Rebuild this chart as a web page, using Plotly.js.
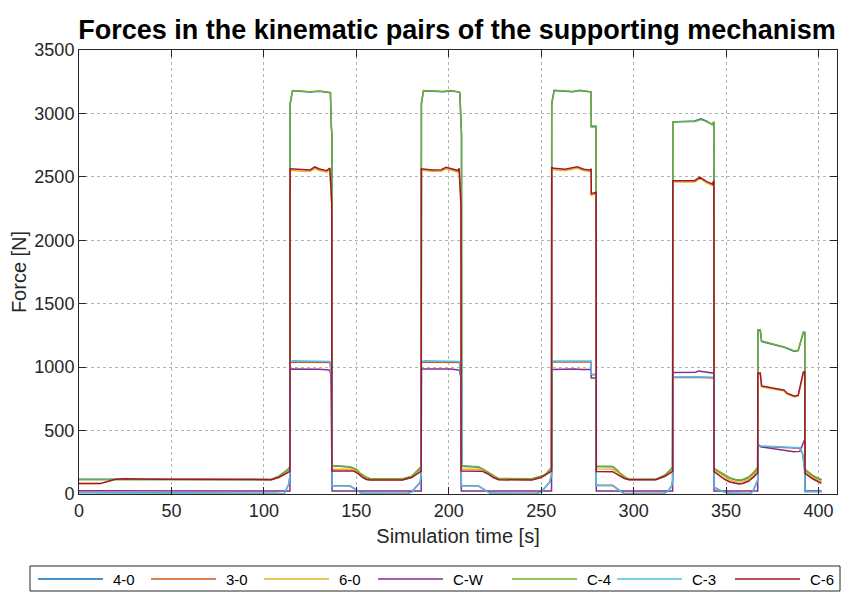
<!DOCTYPE html>
<html>
<head>
<meta charset="utf-8">
<script src="https://cdn.plot.ly/plotly-3.0.1.min.js"></script>
<style>html,body{margin:0;padding:0;background:#fff;}#chart{width:842px;height:592px;}</style>
</head>
<body>
<div id="chart"></div>
<script>
// Series names and colours
const seriesNames = ["4-0", "3-0", "6-0", "C-W", "C-4", "C-3", "C-6"];
const seriesColors = ["#0072BD", "#D95319", "#EDB120", "#7E2F8E", "#77AC30", "#4DBEEE", "#A2142F"];

// C-4 and 4-0 (shared time points)
const tC4 = [0,13,20,25,40,60,80,104,108,113,114.1,
  114.2,115.5,120,125,130,133,136.0,136.5,136.8,136.9,
  146.5,150,152,155,157.3,175,180,184.3,185.1,
  185.2,186.3,192,197,201,205.5,206.0,206.6,206.9,207.0,
  216,219,222,225,227,245,252,255.6,
  255.7,257,262,267,271,276.5,277.0,277.1,279.7,279.8,
  288.6,291,293,296,297.6,312,317,321.1,
  321.2,333,336.5,339.5,342.5,343.2,343.4,
  343.5,346,349,352,355,357,359,362,365,367.1,
  367.2,368.5,369.2,381.5,387,389,391.8,392.6,
  392.7,397,401.6];
const vC4 = [113,113,116,118,116,114,116,114,140,195,215,
  3080,3180,3175,3170,3176,3170,3165,2900,2830,225,
  215,195,165,135,123,120,140,205,215,
  3080,3180,3176,3172,3180,3170,3162,2880,2830,222,
  215,192,165,135,122,120,150,210,
  3080,3182,3178,3172,3182,3172,3170,2900,2900,220,
  218,190,160,128,116,116,150,210,
  2934,2936,2952,2935,2915,2930,2930,
  201,180,152,128,114,110,114,132,170,210,
  1295,1295,1206,1159,1127,1133,1277,1277,
  194,145,112];
const v40 = [116,116,117,118,116,114,116,114,138,192,212,
  3075,3178,3172,3168,3174,3168,3162,2895,2825,222,
  212,192,162,132,121,118,138,202,212,
  3075,3178,3174,3170,3178,3168,3160,2875,2825,219,
  212,189,162,132,120,118,148,207,
  3075,3180,3176,3170,3180,3170,3168,2895,2895,217,
  215,187,157,125,114,114,148,207,
  2932,2940,2958,2938,2912,2928,2928,
  198,177,149,125,112,108,112,130,167,207,
  1290,1290,1202,1156,1124,1130,1272,1272,
  190,142,110];

// C-6 and 6-0 (shared time points)
const tC6 = [0,11.4,19.6,25,40,60,80,104,108,113,114.1,
  114.2,120,125,127.6,130,134,135.7,136.7,136.8,
  148.6,151,153.5,155.5,157.3,175,180,184.3,185.1,
  185.2,191,196,198.5,202,205,205.6,206.6,206.7,
  218,221,224,227,245,250,254,255.6,
  255.7,257,263,269.5,273,276,277.0,277.1,279.7,279.8,
  288.6,292,295,297.6,312,317,321.1,
  321.2,333,335.8,339.5,342.6,343.2,343.4,
  343.5,346,349,352,355,357,359,362,365,367.1,
  367.2,368.5,369.2,381.5,383,387,389,391.8,392.6,
  392.7,397,401.6];
const vC6 = [82,82,116,120,116,115,116,113,130,165,178,
  2564,2556,2555,2578,2562,2549,2570,2290,181,
  181,160,130,115,110,110,130,176,181,
  2564,2555,2556,2576,2562,2550,2568,2285,181,
  180,160,130,112,110,130,170,181,
  2572,2568,2560,2580,2560,2555,2560,2367,2378,178,
  176,150,122,112,112,140,178,
  2470,2470,2498,2462,2444,2468,2470,
  176,150,118,95,82,79,83,100,135,168,
  954,954,852,818,795,771,779,962,962,
  163,118,84];
const v60 = [82,82,115,119,116,114,116,113,132,175,195,
  2552,2545,2544,2565,2550,2538,2555,2280,195,
  195,172,138,118,113,112,133,185,195,
  2552,2544,2545,2563,2550,2538,2555,2275,195,
  195,172,138,115,112,133,178,195,
  2560,2556,2548,2568,2550,2543,2548,2355,2366,198,
  195,165,130,114,114,145,195,
  2460,2460,2486,2452,2432,2458,2460,
  190,165,134,110,97,93,97,115,150,188,
  945,945,845,811,788,764,772,952,952,
  178,128,95];

// C-3 and 3-0 (shared time points)
const tC3 = [0,50,100,106,111,113.5,114.1,
  114.2,116,125,133,135.7,136.5,136.8,136.9,
  146.5,150,152.8,165,177,180,182.5,184.5,185.1,
  185.2,187,196,204,205.8,206.3,206.7,206.8,
  216,219.5,222.5,235,247,250,252.5,254.5,255.6,
  255.7,265,274,277.0,277.1,279.7,279.8,
  288.6,292,295,305,316,318.5,320.5,321.1,
  321.2,333,343.2,343.4,
  343.5,347,351.4,357,363,364.5,365.5,367.1,
  367.2,369,390,391.4,392.5,
  392.7,401.6];
const vC3 = [10,8,8,3,0,80,150,
  1044,1050,1046,1048,1045,945,940,63,
  63,30,5,3,2,15,57,90,150,
  1044,1050,1046,1048,1045,950,940,63,
  63,30,5,3,2,15,57,90,150,
  1048,1048,1046,1048,944,944,65,
  65,30,0,2,2,20,60,110,
  923,925,923,920,
  50,25,5,0,0,20,57,110,
  385,378,364,320,189,
  18,18];
const v30 = [12,10,10,5,2,78,145,
  1036,1040,1038,1040,1037,940,935,66,
  66,33,8,6,5,18,60,92,148,
  1036,1040,1038,1040,1037,945,935,66,
  66,33,8,6,5,18,60,92,148,
  1040,1040,1038,1040,940,940,68,
  68,33,3,5,5,23,63,108,
  918,920,918,915,
  53,28,8,3,3,23,60,108,
  380,374,360,318,185,
  20,20];

// C-W
const tCW = [0,50,100,114.1,
  114.2,120,125,130,134,135.7,136.3,136.9,
  160,185.1,
  185.2,190,196,201,204.5,205.8,206.5,206.8,
  230,255.6,
  255.7,262,268,272,277.0,277.1,279.7,279.8,
  300,321.1,
  321.2,333.6,335,338,342,343.2,343.4,
  343.5,367.1,
  367.2,368.8,386.7,389.9,392.4,392.6,
  392.7,401.6];
const vCW = [26,24,24,24,
  985,986,985,983,980,975,940,24,
  24,24,
  985,986,984,986,980,975,930,24,
  24,24,
  981,984,986,982,981,915,915,24,
  24,24,
  957,960,970,965,958,952,952,
  24,24,
  393,372,333,336,425,425,
  24,24];

const seriesT = [tC4, tC3, tC6, tCW, tC4, tC3, tC6];
const seriesV = [v40, v30, v60, vCW, vC4, vC3, vC6];

const xTicks = [0,50,100,150,200,250,300,350,400];
const yTicks = [0,500,1000,1500,2000,2500,3000,3500];

const FONT = "Liberation Sans, Arial, Helvetica, sans-serif";
const AX = "#262626";

// plot box in pixels (used to place the legend outside the axes)
const PL = 79, PR = 837, PT = 50, PB = 494;
const px2x = p => (p - PL) / (PR - PL);
const px2y = p => (PB - p) / (PB - PT);

const traces = seriesNames.map((n, i) => ({
  type: "scatter", mode: "lines", name: n,
  x: seriesT[i], y: seriesV[i],
  line: {color: seriesColors[i], width: 1.5},
  hoverinfo: "skip", showlegend: false
}));

// Legend drawn below the axes, MATLAB style (long line samples)
const legendTextLeft = [111, 224, 337, 451, 585, 690, 808];
const legendY = 579;
const shapes = [{
  type: "rect", xref: "paper", yref: "paper",
  x0: px2x(30), x1: px2x(840), y0: px2y(591), y1: px2y(566),
  line: {color: AX, width: 1}, fillcolor: "rgba(255,255,255,0)", layer: "above"
}];
const annotations = [];
seriesNames.forEach((n, i) => {
  const tl = legendTextLeft[i];
  shapes.push({
    type: "line", xref: "paper", yref: "paper",
    x0: px2x(tl - 73), x1: px2x(tl - 8), y0: px2y(legendY), y1: px2y(legendY),
    line: {color: seriesColors[i], width: 1.5}, layer: "above"
  });
  annotations.push({
    xref: "paper", yref: "paper", x: px2x(tl), y: px2y(legendY),
    xanchor: "left", yanchor: "middle", showarrow: false, text: n,
    font: {family: FONT, size: 15, color: "#000"}
  });
});

const axisCommon = {
  showline: true, linecolor: AX, linewidth: 1, mirror: "ticks",
  ticks: "inside", ticklen: 7, tickcolor: AX, tickwidth: 1,
  showgrid: true, gridcolor: "#b4b4b4", gridwidth: 1, griddash: "dot",
  zeroline: false, tickfont: {family: FONT, size: 18, color: AX},
  fixedrange: true, automargin: false
};

const layout = {
  width: 842, height: 592,
  paper_bgcolor: "#ffffff", plot_bgcolor: "#ffffff",
  margin: {l: PL, r: 842 - PR, t: PT, b: 592 - PB, autoexpand: false},
  title: {
    text: "<b>Forces in the kinematic pairs of the supporting mechanism</b>",
    font: {family: FONT, size: 27, color: "#000"},
    xref: "container", x: 457 / 842, xanchor: "center",
    yref: "container", y: 1 - 30/592, yanchor: "middle"
  },
  xaxis: Object.assign({}, axisCommon, {
    range: [0, 410], tickvals: xTicks, ticktext: xTicks.map(String),
    title: {text: "Simulation time [s]", font: {family: FONT, size: 20, color: AX}, standoff: 9}
  }),
  yaxis: Object.assign({}, axisCommon, {
    range: [0, 3500], tickvals: yTicks, ticktext: yTicks.map(String),
    title: {text: "Force [N]", font: {family: FONT, size: 20, color: AX}, standoff: 2}
  }),
  showlegend: false,
  shapes: shapes,
  annotations: annotations
};

Plotly.newPlot("chart", traces, layout, {staticPlot: true, displayModeBar: false});
</script>
</body>
</html>
